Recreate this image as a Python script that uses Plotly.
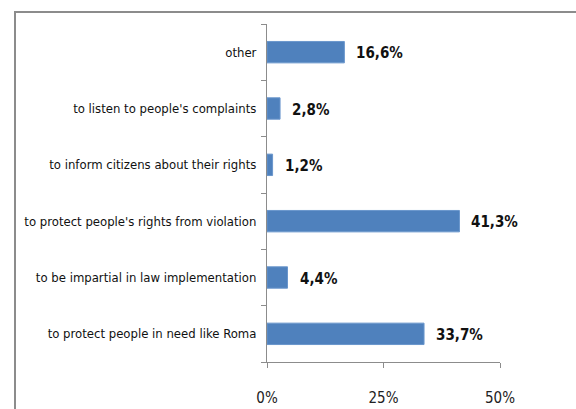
import plotly.graph_objects as go

# Survey answers, listed bottom to top
categories = [
    "to protect people in need like Roma",
    "to be impartial in law implementation",
    "to protect people's rights from violation",
    "to inform citizens about their rights",
    "to listen to people's complaints",
    "other",
]
values = [33.7, 4.4, 41.3, 1.2, 2.8, 16.6]
x_ticks = [0, 25, 50]
x_tick_labels = ["0%", "25%", "50%"]

FONT = "DejaVu Sans Condensed, Liberation Sans Narrow, sans-serif"
W, H = 576, 409
M_L, M_R, M_T, M_B = 267, 76, 24, 47

fig = go.Figure(
    go.Bar(
        x=values,
        y=categories,
        orientation="h",
        width=0.38,
        marker=dict(color="#4F81BD", line=dict(color="#6A96CC", width=1)),
        hoverinfo="skip",
    )
)

# value labels to the right of each bar, comma as decimal separator
for cat, v in zip(categories, values):
    fig.add_annotation(
        x=v, y=cat, xref="x", yref="y",
        text=f"{v:.1f}".replace(".", ",") + "%",
        showarrow=False, xanchor="left", xshift=10, yshift=-1,
        font=dict(family=FONT, size=15, color="#111111", weight="bold"),
    )

# outer frame of the chart area (pixel positions converted to paper units)
pw = W - M_L - M_R
ph = H - M_T - M_B
def px_x(p):
    return (p - M_L) / pw
def px_y(p):
    return (H - M_B - p) / ph

fig.add_shape(
    type="rect", xref="paper", yref="paper",
    x0=px_x(15), x1=px_x(W + 20),
    y0=px_y(H + 20), y1=px_y(12),
    line=dict(color="#8C8C8C", width=2), layer="below",
)

fig.update_layout(
    width=W, height=H,
    margin=dict(l=M_L, r=M_R, t=M_T, b=M_B),
    paper_bgcolor="white", plot_bgcolor="white",
    showlegend=False,
    font=dict(family=FONT, size=13, color="#111111"),
    xaxis=dict(
        range=[0, 50], tickvals=x_ticks, ticktext=x_tick_labels,
        showgrid=False, zeroline=False, automargin=False,
        showline=True, linecolor="#8C8C8C", linewidth=1,
        ticks="outside", ticklen=5, tickcolor="#8C8C8C",
        tickfont=dict(family=FONT, size=15, color="#222222"),
        ticklabelstandoff=17,
    ),
    yaxis=dict(
        showgrid=False, zeroline=False, automargin=False,
        showline=True, linecolor="#8C8C8C", linewidth=1,
        ticks="outside", ticklen=5, tickcolor="#8C8C8C",
        tickson="boundaries",
        tickfont=dict(family=FONT, size=13, color="#111111"),
        ticklabelstandoff=7,
    ),
)

fig.write_html("out.html")
